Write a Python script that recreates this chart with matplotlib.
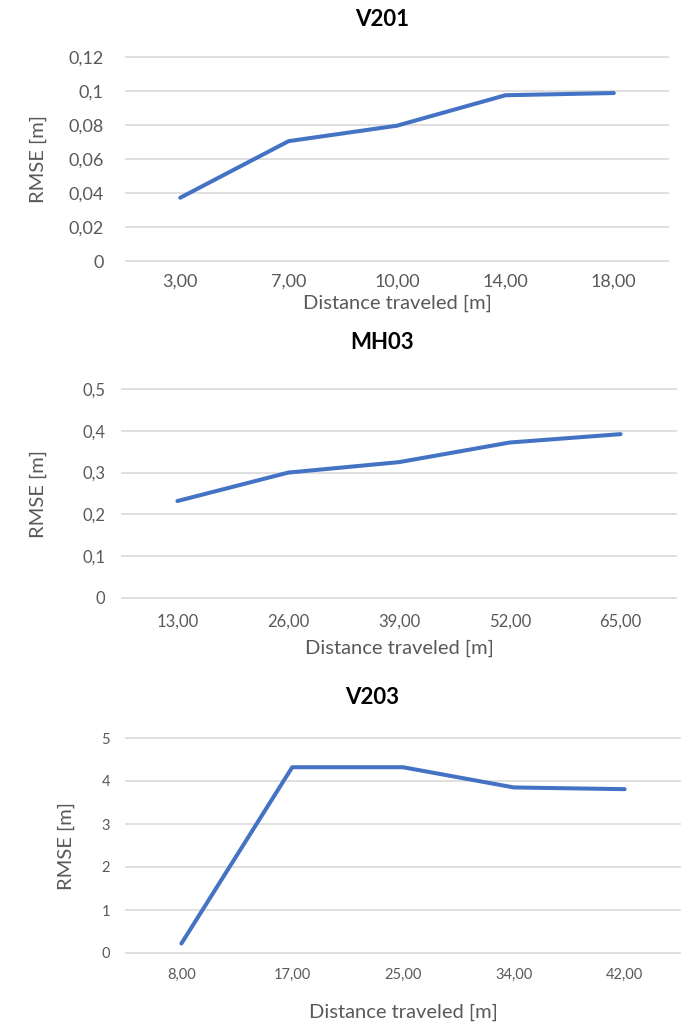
import matplotlib.pyplot as plt

# data
v201_dist = ["3,00", "7,00", "10,00", "14,00", "18,00"]
v201_rmse = [0.0372, 0.0705, 0.0796, 0.0975, 0.0988]
v201_ticks = [0, 0.02, 0.04, 0.06, 0.08, 0.10, 0.12]
v201_ticklabels = ["0", "0,02", "0,04", "0,06", "0,08", "0,1", "0,12"]

mh03_dist = ["13,00", "26,00", "39,00", "52,00", "65,00"]
mh03_rmse = [0.232, 0.300, 0.325, 0.372, 0.392]
mh03_ticks = [0, 0.1, 0.2, 0.3, 0.4, 0.5]
mh03_ticklabels = ["0", "0,1", "0,2", "0,3", "0,4", "0,5"]

v203_dist = ["8,00", "17,00", "25,00", "34,00", "42,00"]
v203_rmse = [0.22, 4.32, 4.32, 3.85, 3.81]
v203_ticks = [0, 1, 2, 3, 4, 5]
v203_ticklabels = ["0", "1", "2", "3", "4", "5"]

plt.rcParams['font.family'] = ['Lato', 'DejaVu Sans']

W, H = 697, 1027
fig = plt.figure(figsize=(W / 100, H / 100), dpi=100)

LINE = '#4472C4'
GRID = '#D9D9D9'
TXT = '#595959'


def panel(px_left, px_right, px_top, px_bottom, title, title_x, title_y,
          cats, vals, ticks, ticklabels, ylab_x, xlab_y, tick_fs, ypad, xpad):
    ax = fig.add_axes([px_left / W, 1 - px_bottom / H,
                       (px_right - px_left) / W, (px_bottom - px_top) / H])
    x = list(range(len(cats)))
    ax.plot(x, vals, color=LINE, lw=2.9, solid_capstyle='round',
            solid_joinstyle='round', zorder=3)
    ax.set_xlim(-0.5, len(cats) - 0.5)
    ax.set_ylim(ticks[0], ticks[-1])
    ax.set_xticks(x)
    ax.set_xticklabels(cats, fontsize=tick_fs, color=TXT)
    ax.set_yticks(ticks)
    ax.set_yticklabels(ticklabels, fontsize=tick_fs, color=TXT)
    ax.tick_params(axis='both', length=0)
    ax.tick_params(axis='y', pad=ypad)
    ax.tick_params(axis='x', pad=xpad)
    for t in ticks:
        ax.axhline(t, color=GRID, lw=1.2, zorder=1, clip_on=False)
    for s in ax.spines.values():
        s.set_visible(False)
    ax.set_ylabel("RMSE [m]", fontsize=14.5, color=TXT)
    ax.yaxis.label.set_va('center')
    ax.yaxis.set_label_coords((ylab_x - px_left) / (px_right - px_left), 0.5)
    ax.set_xlabel("Distance traveled [m]", fontsize=14.5, color=TXT)
    ax.xaxis.label.set_va('center')
    ax.xaxis.set_label_coords(0.5, -(xlab_y - px_bottom) / (px_bottom - px_top))
    fig.text(title_x / W, 1 - title_y / H, title, fontsize=16,
             fontweight='bold', ha='center', va='center', color='black')
    return ax


panel(126, 668, 57, 261, "V201", 382, 19, v201_dist, v201_rmse,
      v201_ticks, v201_ticklabels, 38, 303, 13, 16, 9)
panel(122, 676, 389, 598, "MH03", 382, 343, mh03_dist, mh03_rmse,
      mh03_ticks, mh03_ticklabels, 38, 648, 12, 12, 11)
panel(126, 680, 738, 953, "V203", 372, 697, v203_dist, v203_rmse,
      v203_ticks, v203_ticklabels, 66, 1012, 10.5, 11.5, 11)

fig.savefig("out.png", dpi=100, facecolor='white')
